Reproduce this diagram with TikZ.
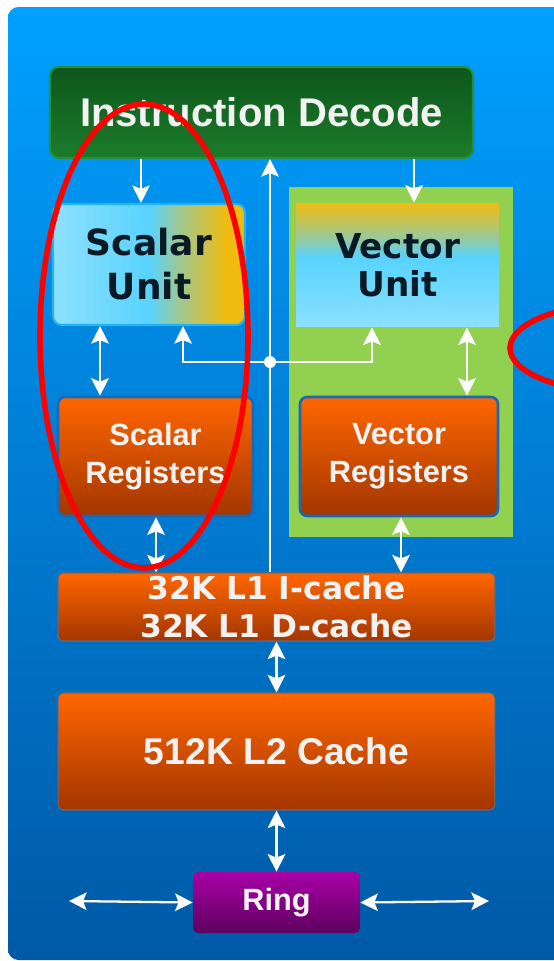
\documentclass[tikz,border=0pt]{standalone}
\usepackage{fontspec}
\setmainfont{Liberation Sans}
\newfontfamily\verdana{DejaVu Sans}
\usetikzlibrary{arrows.meta, positioning, calc}
\definecolor{bgtop}{HTML}{00A0FF}
\definecolor{bgbot}{HTML}{0059A6}
\definecolor{idtop}{HTML}{0E561A}
\definecolor{idbot}{HTML}{1B7C2B}
\definecolor{idline}{HTML}{25903A}
\definecolor{panelgreen}{HTML}{92D050}
\definecolor{ortop}{HTML}{FF6600}
\definecolor{orbot}{HTML}{A33600}
\definecolor{regline}{HTML}{1A68B8}
\definecolor{ringtop}{HTML}{A800A8}
\definecolor{ringbot}{HTML}{5E005E}
\definecolor{sulight}{HTML}{8EE0FF}
\definecolor{sucyan}{HTML}{58D3FF}
\definecolor{sucyanb}{HTML}{66D7FF}
\definecolor{sumix}{HTML}{A0C890}
\definecolor{suyellow}{HTML}{F0BC10}
\definecolor{suline}{HTML}{22B4F0}
\definecolor{txtlight}{HTML}{F2F2F2}
\definecolor{txtdark}{HTML}{0A1A24}
\definecolor{ringred}{HTML}{FF0000}
\pgfdeclarehorizontalshading{scalarshade}{100bp}{color(0bp)=(sulight); color(25bp)=(sulight); color(50bp)=(sucyan); color(58bp)=(sumix); color(70bp)=(suyellow); color(100bp)=(suyellow)}
\pgfdeclareverticalshading{vectorshade}{100bp}{color(0bp)=(sulight); color(25bp)=(sulight); color(45bp)=(sucyanb); color(53bp)=(sucyan); color(62bp)=(sumix); color(75bp)=(suyellow); color(100bp)=(suyellow)}

\begin{document}
\begin{tikzpicture}[x=0.02cm, y=-0.02cm,
        decodebox/.style={shade, top color=idtop, bottom color=idbot, draw=idline, line width=1.2pt,
                    rounded corners=5pt, minimum width=8.46cm, minimum height=1.82cm, inner sep=0pt,
                    text=txtlight, font=\fontsize{22.8}{28}\selectfont\bfseries},
        unitbox/.style={inner sep=0pt, align=center, text=txtdark},
        regbox/.style={shade, top color=ortop, bottom color=orbot, draw=regline, line width=1.5pt,
                    rounded corners=4pt, minimum width=3.9cm, minimum height=2.38cm, inner sep=0pt,
                    align=center, text=txtlight, font=\fontsize{17.5}{21.5}\selectfont\bfseries},
        cachebox/.style={shade, top color=ortop, bottom color=orbot, draw=regline!60!ortop, line width=0.6pt,
                    rounded corners=3pt, minimum width=8.74cm, inner sep=0pt, align=center, text=txtlight},
        arr/.style={{Stealth[length=10pt, width=10pt, inset=2pt]}-{Stealth[length=10pt, width=10pt, inset=2pt]},
                    white, line width=1.3pt},
        fwd/.style={-{Stealth[length=10pt, width=10pt, inset=2pt]}, white, line width=1.3pt},
        redring/.style={draw=ringred, line width=3.2pt},
    ]
    \useasboundingbox (0,0) rectangle (554,961);
    \clip (0,0) rectangle (554,961);
    \shade[top color=bgtop, bottom color=bgbot, rounded corners=6pt] (8,7) rectangle (640,960);

    \node[fill=panelgreen, minimum width=4.48cm, minimum height=7cm, inner sep=0pt] (vpanel) at (401,362) {};

    \node[decodebox] (decode) at (261.5,112.5) {Instruction Decode};
    \node[unitbox, shading=scalarshade, draw=suline, line width=1.2pt, rounded corners=5pt,
          minimum width=3.84cm, minimum height=2.42cm,
          font=\verdana\fontsize{20.5}{25}\selectfont\bfseries] (su) at (149,264.5) {Scalar\\Unit};
    \node[unitbox, shading=vectorshade, minimum width=4.06cm, minimum height=2.48cm,
          font=\verdana\fontsize{19.5}{21.5}\selectfont\bfseries] (vu) at (397.5,265) {Vector\\Unit};
    \node[regbox] (sr) at (155.5,456.5) {Scalar\\Registers};
    \node[regbox, minimum width=3.96cm] (vr) at (399,456.5) {Vector\\Registers};
    \node[cachebox, minimum height=1.36cm, font=\verdana\fontsize{17.8}{21.5}\selectfont\bfseries]
          (l1) at (276.5,607) {32K L1 I-cache\\32K L1 D-cache};
    \node[cachebox, minimum height=2.34cm, font=\fontsize{21.2}{25}\selectfont\bfseries]
          (l2) at (276.5,751.5) {512K L2 Cache};
    \node[shade, top color=ringtop, bottom color=ringbot, rounded corners=3pt, minimum width=3.34cm,
          minimum height=1.22cm, inner sep=0pt, text=txtlight, font=\fontsize{17.5}{21}\selectfont\bfseries]
          (ring) at (276.5,902.5) {Ring};

    \coordinate (xa) at (141,0);
    \coordinate (xb) at (270,0);
    \coordinate (xc) at (414,0);
    \coordinate (xd) at (100,0);
    \coordinate (xe) at (183,0);
    \coordinate (xf) at (467,0);
    \coordinate (xg) at (156,0);
    \coordinate (xh) at (401,0);
    \coordinate (xi) at (372,0);
    \coordinate (hub) at (270,362);
    \coordinate (ringw) at (69,901);
    \coordinate (ringe) at (489,901);

    \draw[fwd] (decode.south -| xa) -- (su.north -| xa);
    \draw[fwd] (decode.south -| xc) -- (vu.north -| xc);
    \draw[fwd] (l1.north -| xb) -- (decode.south -| xb);
    \draw[fwd] (hub) -| (su.south -| xe);
    \draw[fwd] (hub) -| (vu.south -| xi);
    \fill[white] (hub) circle (3.4pt);
    \draw[arr] (su.south -| xd) -- (sr.north -| xd);
    \draw[arr] (vu.south -| xf) -- (vr.north -| xf);
    \draw[arr] (sr.south -| xg) -- (l1.north -| xg);
    \draw[arr] (vr.south -| xh) -- (l1.north -| xh);
    \draw[arr] (l1.south) -- (l2.north);
    \draw[arr] (l2.south) -- (ring.north);
    \draw[arr] (ringw) -- (ring.west);
    \draw[arr] (ring.east) -- (ringe);

    \draw[redring] (144,336) ellipse [x radius=2.08cm, y radius=4.64cm];
    \draw[redring] (620,348) ellipse [x radius=2.2cm, y radius=0.88cm];
\end{tikzpicture}
\end{document}
